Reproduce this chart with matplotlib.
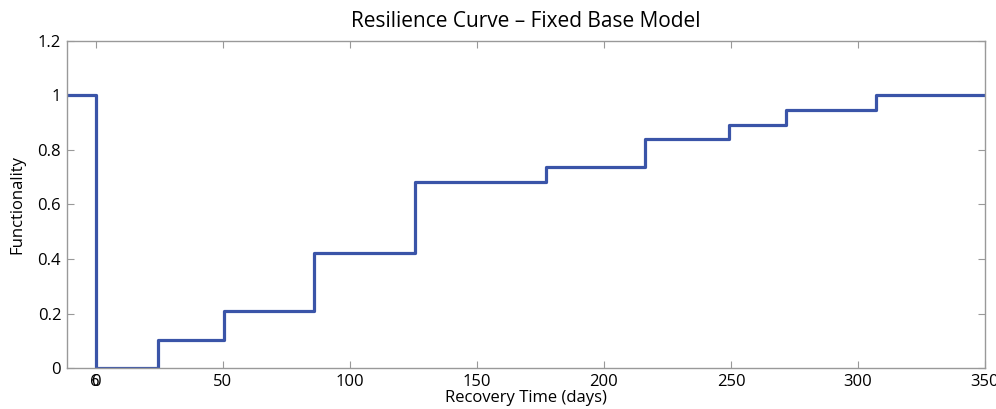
import matplotlib
matplotlib.use("Agg")
import matplotlib.pyplot as plt

# step data: time (days) where functionality changes, value after the change
t_steps = [-11.4, 0, 24.4, 50.4, 85.8, 125.6, 177.2, 216.1, 249.2, 271.7, 307, 350]
func = [1.0, 0.0, 0.103, 0.209, 0.422, 0.683, 0.738, 0.84, 0.89, 0.947, 1.0, 1.0]
xticks = [0, 50, 100, 150, 200, 250, 300, 350]
yticks = [0, 0.2, 0.4, 0.6, 0.8, 1.0, 1.2]
ylabels = ["0", "0.2", "0.4", "0.6", "0.8", "1", "1.2"]

plt.rcParams["font.family"] = ["Open Sans", "DejaVu Sans"]
fig = plt.figure(figsize=(9.96, 4.09), dpi=100)
ax = fig.add_axes([0.067, 0.1, 0.922, 0.8])

ax.step(t_steps, func, where="post", color="#3a54a8", linewidth=2.3)

ax.set_xlim(-11.4, 350)
ax.set_ylim(0, 1.2)
ax.set_xticks(xticks)
ax.set_xticklabels([str(v) for v in xticks])
ax.set_yticks(yticks)
ax.set_yticklabels(ylabels)
# overlapping label at the origin as in the original
ax.annotate("6", xy=(0, 0), xycoords=("data", "axes fraction"),
            xytext=(-0.5, -4), textcoords="offset points",
            ha="center", va="top", fontsize=12)

ax.tick_params(direction="in", length=5, color="#999999", labelsize=12,
               top=True, right=True, pad=4)
for s in ax.spines.values():
    s.set_color("#999999")
    s.set_linewidth(1)

ax.set_xlabel("Recovery Time (days)", fontsize=12, labelpad=0)
ax.set_ylabel("Functionality", fontsize=12, labelpad=9)
ax.set_title("Resilience Curve \u2013 Fixed Base Model", fontsize=15, pad=10)

fig.savefig("out.png", dpi=100)
